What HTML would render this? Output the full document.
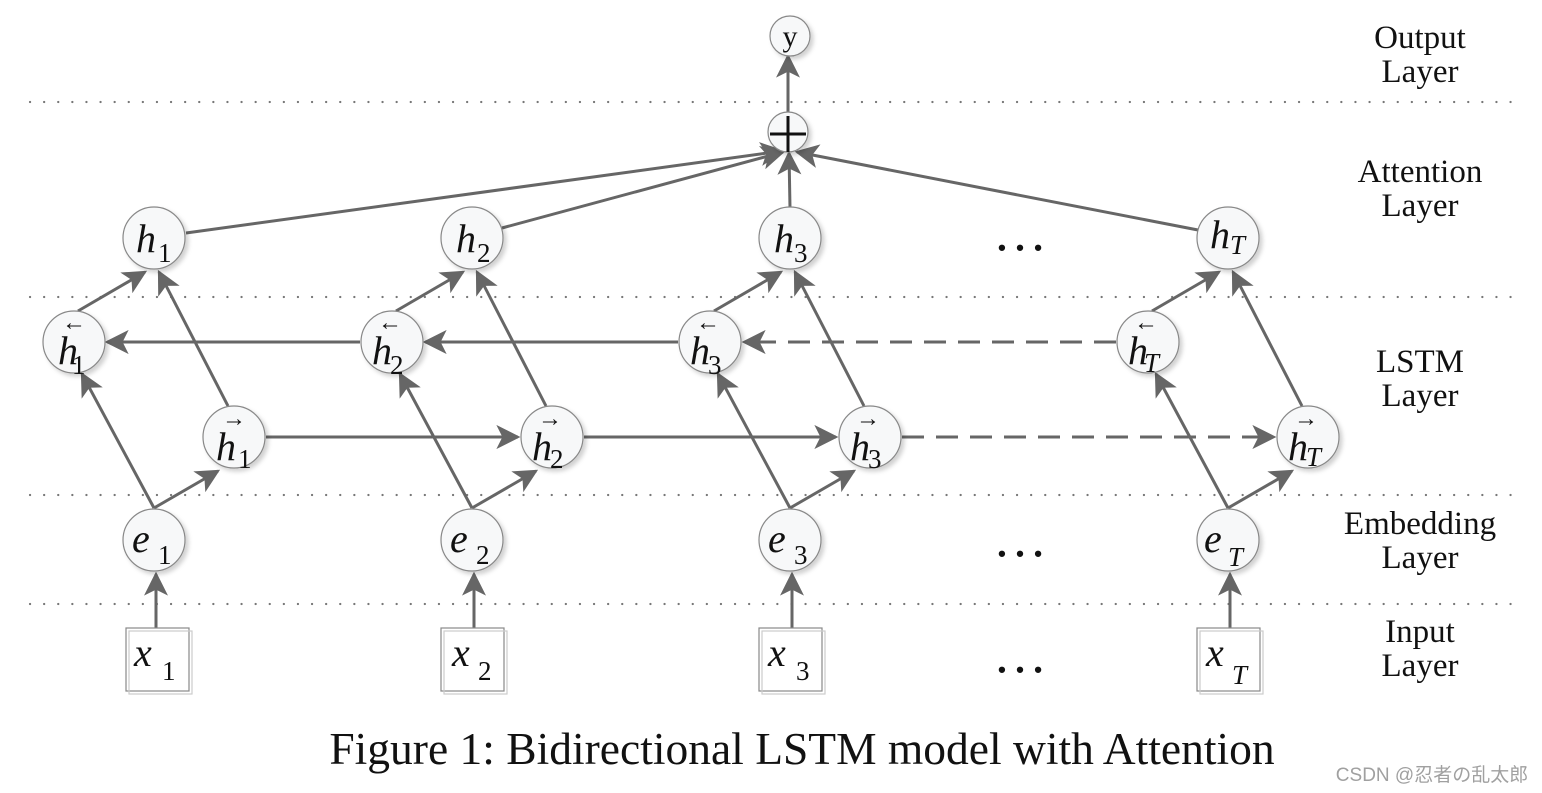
<!DOCTYPE html>
<html><head><meta charset="utf-8"><style>
html,body{margin:0;padding:0;background:#fff;width:1542px;height:793px;overflow:hidden}
svg text{font-family:"Liberation Serif",serif;fill:#111}
.n{fill:#f7f8f9;stroke:#888;stroke-width:1.2}
.l{stroke:#666;stroke-width:3;fill:none}
.d{stroke:#666;stroke-width:3;fill:none;stroke-dasharray:22 12}
.dot{stroke:#777;stroke-width:2.2;stroke-dasharray:0.1 14;stroke-linecap:round}
.lab{font-size:33px;text-anchor:middle}
.v{font-style:italic;font-size:40px}
.s{font-size:27px}
.si{font-size:27px;font-style:italic}
</style></head><body>
<svg width="1542" height="793" xmlns="http://www.w3.org/2000/svg">
<defs>
<marker id="ar" viewBox="0 0 10 10" refX="9" refY="5" markerWidth="24" markerHeight="24" markerUnits="userSpaceOnUse" orient="auto"><path d="M0,0 L10,5 L0,10 L2.5,5 z" fill="#666"/></marker>
<filter id="sh"><feDropShadow dx="3" dy="3" stdDeviation="2" flood-color="#000" flood-opacity="0.18"/></filter>
</defs>
<line class="dot" x1="30" y1="102" x2="1520" y2="102"/>
<line class="dot" x1="30" y1="297" x2="1520" y2="297"/>
<line class="dot" x1="30" y1="495" x2="1520" y2="495"/>
<line class="dot" x1="30" y1="604" x2="1520" y2="604"/>

<g class="l" marker-end="url(#ar)">
<line x1="788" y1="112" x2="788" y2="56"/>
<line x1="186" y1="233" x2="782" y2="151"/>
<line x1="502" y1="228" x2="783" y2="152"/>
<line x1="790" y1="208" x2="789" y2="153"/>
<line x1="1198" y1="230" x2="797" y2="152"/>
<line x1="360" y1="342" x2="107" y2="342"/>
<line x1="678" y1="342" x2="425" y2="342"/>
<line x1="266" y1="437" x2="518" y2="437"/>
<line x1="584" y1="437" x2="836" y2="437"/>
</g>
<g class="d" marker-end="url(#ar)">
<line x1="1116" y1="342" x2="744" y2="342"/>
<line x1="902" y1="437" x2="1274" y2="437"/>
</g>
<g id="col" class="l" marker-end="url(#ar)">
<line x1="156" y1="628" x2="156" y2="574"/>
<line x1="154" y1="508" x2="82" y2="374"/>
<line x1="154" y1="508" x2="218" y2="471"/>
<line x1="228" y1="406" x2="159" y2="272"/>
<line x1="78" y1="311" x2="145" y2="272"/>
</g>
<use href="#col" x="318"/>
<use href="#col" x="636"/>
<use href="#col" x="1074"/>

<g filter="url(#sh)">
<circle class="n" cx="790" cy="36" r="20"/>
<circle class="n" cx="788" cy="132" r="20"/>
<circle class="n" cx="154" cy="238" r="31"/><circle class="n" cx="472" cy="238" r="31"/><circle class="n" cx="790" cy="238" r="31"/><circle class="n" cx="1228" cy="238" r="31"/>
<circle class="n" cx="74" cy="342" r="31"/><circle class="n" cx="392" cy="342" r="31"/><circle class="n" cx="710" cy="342" r="31"/><circle class="n" cx="1148" cy="342" r="31"/>
<circle class="n" cx="234" cy="437" r="31"/><circle class="n" cx="552" cy="437" r="31"/><circle class="n" cx="870" cy="437" r="31"/><circle class="n" cx="1308" cy="437" r="31"/>
<circle class="n" cx="154" cy="540" r="31"/><circle class="n" cx="472" cy="540" r="31"/><circle class="n" cx="790" cy="540" r="31"/><circle class="n" cx="1228" cy="540" r="31"/>
</g>
<g fill="#fff" stroke="#888" stroke-width="1.2">
<rect x="126" y="628" width="63" height="63"/><rect x="129" y="631" width="63" height="63" fill="none" stroke="#ccc"/>
<rect x="441" y="628" width="63" height="63"/><rect x="444" y="631" width="63" height="63" fill="none" stroke="#ccc"/>
<rect x="759" y="628" width="63" height="63"/><rect x="762" y="631" width="63" height="63" fill="none" stroke="#ccc"/>
<rect x="1197" y="628" width="63" height="63"/><rect x="1200" y="631" width="63" height="63" fill="none" stroke="#ccc"/>
</g>
<line x1="770" y1="134" x2="806" y2="134" stroke="#111" stroke-width="3"/>
<line x1="788" y1="116" x2="788" y2="152" stroke="#111" stroke-width="3"/>
<text x="790" y="46" font-size="30" text-anchor="middle">y</text>

<g>
<text x="136" y="252" class="v">h</text><text x="158" y="262" class="s">1</text>
<text x="456" y="252" class="v">h</text><text x="477" y="262" class="s">2</text>
<text x="774" y="252" class="v">h</text><text x="794" y="262" class="s">3</text>
<text x="1210" y="248" class="v">h</text><text x="1230" y="254" class="si">T</text>

<text x="58" y="364" class="v">h</text><text x="72" y="374" class="s">1</text><text x="62" y="330" font-size="24">←</text>
<text x="372" y="364" class="v">h</text><text x="390" y="374" class="s">2</text><text x="378" y="330" font-size="24">←</text>
<text x="690" y="364" class="v">h</text><text x="708" y="374" class="s">3</text><text x="696" y="330" font-size="24">←</text>
<text x="1128" y="364" class="v">h</text><text x="1144" y="372" class="si">T</text><text x="1134" y="330" font-size="24">←</text>

<text x="216" y="460" class="v">h</text><text x="238" y="468" class="s">1</text><text x="222" y="426" font-size="24">→</text>
<text x="532" y="460" class="v">h</text><text x="550" y="468" class="s">2</text><text x="538" y="426" font-size="24">→</text>
<text x="850" y="460" class="v">h</text><text x="868" y="468" class="s">3</text><text x="856" y="426" font-size="24">→</text>
<text x="1288" y="460" class="v">h</text><text x="1306" y="466" class="si">T</text><text x="1294" y="426" font-size="24">→</text>

<text x="132" y="552" class="v" font-size="46">e</text><text x="158" y="564" class="s">1</text>
<text x="450" y="552" class="v" font-size="46">e</text><text x="476" y="564" class="s">2</text>
<text x="768" y="552" class="v" font-size="46">e</text><text x="794" y="564" class="s">3</text>
<text x="1204" y="552" class="v" font-size="46">e</text><text x="1228" y="566" class="si">T</text>

<text x="134" y="666" class="v" font-size="46">x</text><text x="162" y="680" class="s">1</text>
<text x="452" y="666" class="v" font-size="46">x</text><text x="478" y="680" class="s">2</text>
<text x="768" y="666" class="v" font-size="46">x</text><text x="796" y="680" class="s">3</text>
<text x="1206" y="666" class="v" font-size="46">x</text><text x="1232" y="684" class="si">T</text>
</g>
<g font-size="54" text-anchor="middle">
<text x="1020" y="250">…</text><text x="1020" y="556">…</text><text x="1020" y="672">…</text>
</g>
<text x="1420" y="48" class="lab">Output</text><text x="1420" y="82" class="lab">Layer</text>
<text x="1420" y="182" class="lab">Attention</text><text x="1420" y="216" class="lab">Layer</text>
<text x="1420" y="372" class="lab">LSTM</text><text x="1420" y="406" class="lab">Layer</text>
<text x="1420" y="534" class="lab">Embedding</text><text x="1420" y="568" class="lab">Layer</text>
<text x="1420" y="642" class="lab">Input</text><text x="1420" y="676" class="lab">Layer</text>
<text x="802" y="764" font-size="45.5" text-anchor="middle">Figure 1: Bidirectional LSTM model with Attention</text>
<text x="1432" y="781" font-size="19" style="fill:#a0a0a0;font-family:'Liberation Sans','Noto Sans CJK SC',sans-serif" text-anchor="middle">CSDN @忍者の乱太郎</text>
</svg>
</body></html>
